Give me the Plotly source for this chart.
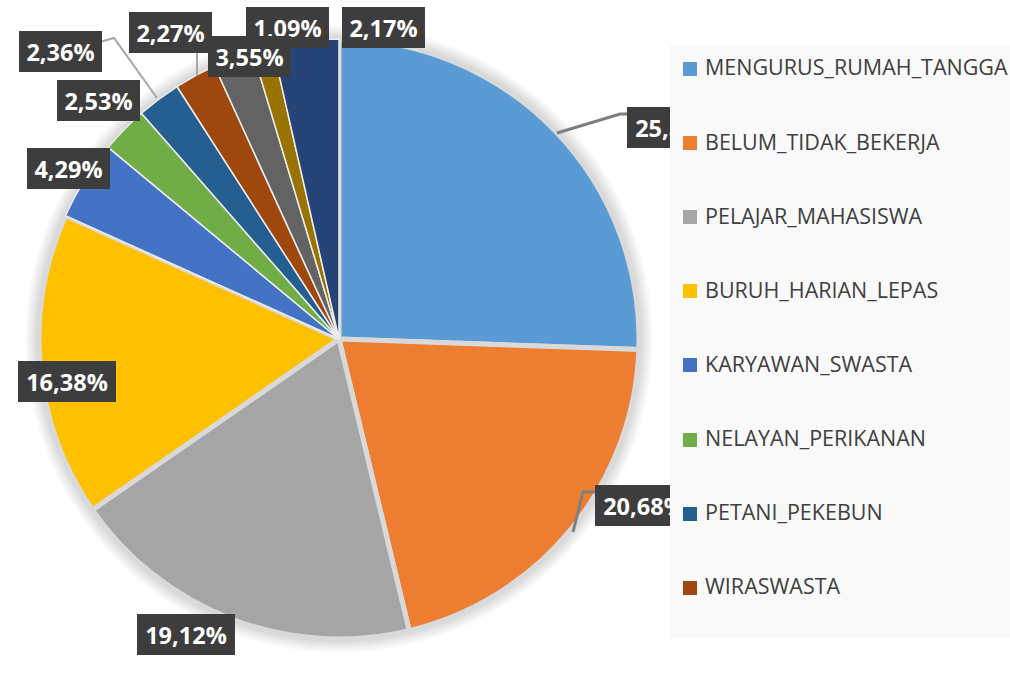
import plotly.graph_objects as go

W, H = 1010, 673

# Share of residents by occupation (%), clockwise from 12 o'clock
occupations = [
    "MENGURUS_RUMAH_TANGGA",
    "BELUM_TIDAK_BEKERJA",
    "PELAJAR_MAHASISWA",
    "BURUH_HARIAN_LEPAS",
    "KARYAWAN_SWASTA",
    "NELAYAN_PERIKANAN",
    "PETANI_PEKEBUN",
    "WIRASWASTA",
    "PEDAGANG",
    "GURU",
    "PEGAWAI_NEGERI_SIPIL",
]
shares = [25.56, 20.68, 19.12, 16.38, 4.29, 2.53, 2.36, 2.27, 2.17, 1.09, 3.55]
colors = ["#5B9BD5", "#ED7D31", "#A5A5A5", "#FFC000", "#4472C4", "#70AD47",
          "#255E91", "#9E480E", "#636363", "#997300", "#264478"]
legend_count = 8  # entries that fit in the legend panel

# --- layout helpers (pixel -> paper) ---
def px(x):
    return x / W

def py(y):
    return 1 - y / H

cx, cy, r = 339, 339, 300

# data-label box centres, in pixels, one per slice
label_pos = [(676, 127), (644, 505), (186, 634), (67, 381), (68, 168), (98, 100),
             (60, 52), (170, 32), (383, 28), (287, 28), (249, 56)]

big = [v >= 10 for v in shares]
line_w = [5 if b else 1.5 for b in big]
line_c = ["#D9D9D9" if b else "#EDEDED" for b in big]

fig = go.Figure(go.Pie(
    labels=occupations,
    values=shares,
    sort=False,
    direction="clockwise",
    rotation=0,
    textinfo="none",
    hovertemplate="%{label}<br>%{value:.2f}%<extra></extra>",
    marker=dict(colors=colors, line=dict(color=line_c, width=line_w)),
    domain=dict(x=[px(cx - r), px(cx + r)], y=[py(cy + r), py(cy - r)]),
))

shapes = []
# soft shadow round the pie
for k in range(14, 0, -1):
    rr = r + k
    shapes.append(dict(
        type="circle", xref="paper", yref="paper", layer="below",
        x0=px(cx - rr), x1=px(cx + rr), y0=py(cy + rr), y1=py(cy - rr),
        fillcolor="rgba(0,0,0,0.011)", line=dict(width=0),
    ))

# leader lines
def path(points):
    return "M " + " L ".join(f"{px(x):.5f},{py(y):.5f}" for x, y in points)

leaders = [
    ([(557, 133), (620, 114), (632, 114)], "#7F7F7F", 3),
    ([(573, 532), (583, 492), (600, 492)], "#7F7F7F", 3),
    ([(100, 42), (114, 38), (157, 98)], "#A6A6A6", 2),
    ([(197, 52), (197, 76)], "#A6A6A6", 2),
]
for pts, col, wdt in leaders:
    shapes.append(dict(type="path", xref="paper", yref="paper", layer="above",
                       path=path(pts), line=dict(color=col, width=wdt)))

annotations = []
for i, v in enumerate(shares):
    txt = f"{v:.2f}".replace(".", ",") + "%"
    x, y = label_pos[i]
    annotations.append(dict(
        x=px(x), y=py(y), xref="paper", yref="paper",
        xanchor="center", yanchor="middle", showarrow=False,
        text=txt, width=98 if len(txt) > 5 else 83, height=41,
        bgcolor="#3D3D3D", borderpad=0, borderwidth=0,
        font=dict(family="Open Sans", size=23.5, color="white", weight="bold"),
    ))

# legend panel, drawn over the outer labels
annotations.append(dict(
    x=px(670), y=py(45), xref="paper", yref="paper",
    xanchor="left", yanchor="top", showarrow=False,
    text=" ", width=345, height=593, bgcolor="#F9F9F9",
    borderpad=0, borderwidth=0,
))

leg_top, leg_step = 67, 74.1
for i in range(legend_count):
    yc = leg_top + i * leg_step
    annotations.append(dict(
        x=px(690), y=py(yc + 2), xref="paper", yref="paper",
        xanchor="center", yanchor="middle", showarrow=False,
        text=" ", width=14, height=14, bgcolor=colors[i],
        borderpad=0, borderwidth=0, font=dict(size=4),
    ))
    annotations.append(dict(
        x=px(703), y=py(yc), xref="paper", yref="paper",
        xanchor="left", yanchor="middle", showarrow=False,
        text=occupations[i],
        font=dict(family="Open Sans", size=21.5, color="#404040"),
    ))

fig.update_layout(
    width=W, height=H,
    margin=dict(l=0, r=0, t=0, b=0),
    paper_bgcolor="white",
    plot_bgcolor="white",
    showlegend=False,
    shapes=shapes,
    annotations=annotations,
)

fig.write_html("out.html")
